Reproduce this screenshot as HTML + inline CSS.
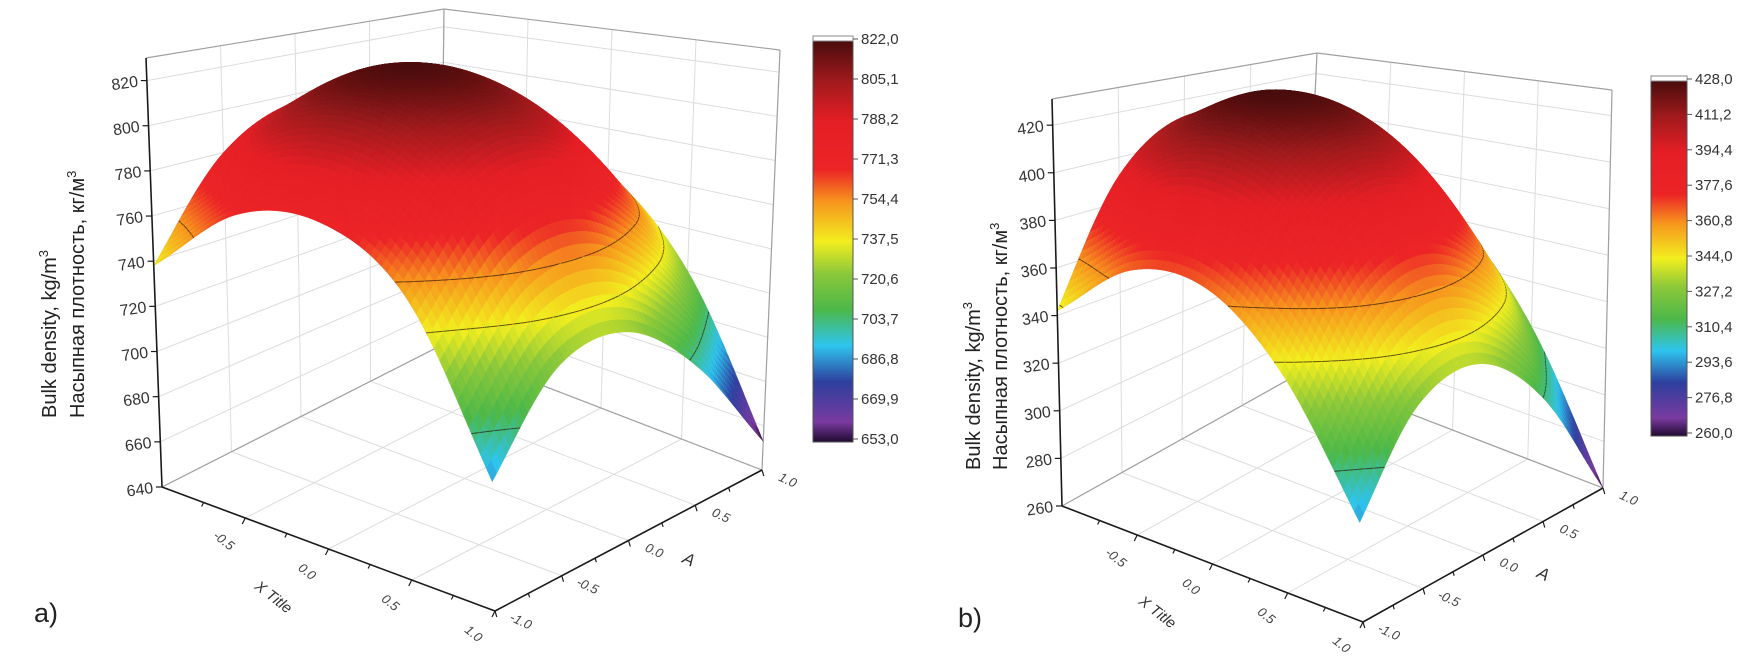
<!DOCTYPE html>
<html><head><meta charset="utf-8">
<style>
html,body{margin:0;padding:0;background:#fff;}
svg{display:block;font-family:"Liberation Sans",sans-serif;}
</style></head>
<body>
<svg id="fig" width="1754" height="659" viewBox="0 0 1754 659" xmlns="http://www.w3.org/2000/svg">
<rect x="0" y="0" width="1754" height="659" fill="#fff"/>
<g id="chartA"></g>
<g id="chartB"></g>
<text x="34" y="622" font-size="27" fill="#222">a)</text>
<text x="958" y="627" font-size="27" fill="#222">b)</text>
</svg>
<script>
// ---- data (rows: A = -1..1, cols: X = -1..1) ----
const gridTicks = [-1, -0.5, 0, 0.5, 1];
const zA = [
  [738, 768, 772, 750, 688],
  [780, 807, 808, 784, 722],
  [796, 820, 817, 790, 725],
  [787, 808, 800, 766, 699],
  [751, 769, 758, 720, 653]
];
const zB = [
  [342, 366, 366, 341, 295],
  [392, 412, 408, 380, 328],
  [412, 428, 421, 389, 334],
  [403, 416, 405, 369, 310],
  [365, 374, 359, 320, 260]
];
const zTicksA = [640, 660, 680, 700, 720, 740, 760, 780, 800, 820];
const zTicksB = [260, 280, 300, 320, 340, 360, 380, 400, 420];
const cbLabelsA = ["822,0","805,1","788,2","771,3","754,4","737,5","720,6","703,7","686,8","669,9","653,0"];
const cbLabelsB = ["428,0","411,2","394,4","377,6","360,8","344,0","327,2","310,4","293,6","276,8","260,0"];
const contourA = [754.4, 737.5, 703.7];
const contourB = [360.8, 344.0, 310.4];
const xTickLabels = ["-0.5", "0.0", "0.5", "1.0"];
const aTickLabels = ["-1.0", "-0.5", "0.0", "0.5", "1.0"];

const NS = "http://www.w3.org/2000/svg";
function mk(tag, attrs, parent) {
  const e = document.createElementNS(NS, tag);
  for (const k in attrs) e.setAttribute(k, attrs[k]);
  if (parent) parent.appendChild(e);
  return e;
}
const stops = [
  [0, [32,10,48]], [0.05, [122,58,160]], [0.15, [45,63,158]], [0.24, [46,196,238]],
  [0.33, [76,184,72]], [0.42, [140,200,58]], [0.5, [242,238,30]], [0.6, [247,148,29]],
  [0.68, [236,36,38]], [0.8, [228,30,37]], [0.9, [160,26,28]], [1, [74,12,12]]
];
function cmap(t) {
  t = Math.max(0, Math.min(1, t));
  for (let i = 1; i < stops.length; i++) {
    if (t <= stops[i][0]) {
      const a = stops[i-1], b = stops[i];
      const f = (t - a[0]) / (b[0] - a[0]);
      const c = a[1].map((v, j) => Math.round(v + (b[1][j] - v) * f));
      return "rgb(" + c.join(",") + ")";
    }
  }
  return "rgb(74,12,12)";
}
function bil(P, u, v) {
  return [
    (1-u)*(1-v)*P.L[0] + u*(1-v)*P.F[0] + u*v*P.R[0] + (1-u)*v*P.B[0],
    (1-u)*(1-v)*P.L[1] + u*(1-v)*P.F[1] + u*v*P.R[1] + (1-u)*v*P.B[1]
  ];
}
function cr(p0, p1, p2, p3, t) {
  return 0.5 * ((2*p1) + (-p0 + p2)*t + (2*p0 - 5*p1 + 4*p2 - p3)*t*t + (-p0 + 3*p1 - 3*p2 + p3)*t*t*t);
}
function sample(Z, u, v) {
  const n = Z.length - 1;
  const g = (r, c) => {
    if (r < 0) return 2*g(0, c) - g(1, c);
    if (r > n) return 2*g(n, c) - g(n-1, c);
    if (c < 0) return 2*Z[r][0] - Z[r][1];
    if (c > n) return 2*Z[r][n] - Z[r][n-1];
    return Z[r][c];
  };
  let fu = u * n, fv = v * n;
  let ci = Math.min(n - 1, Math.floor(fu)), ri = Math.min(n - 1, Math.floor(fv));
  const tu = fu - ci, tv = fv - ri;
  const rows = [];
  for (let k = -1; k <= 2; k++) {
    rows.push(cr(g(ri+k, ci-1), g(ri+k, ci), g(ri+k, ci+1), g(ri+k, ci+2), tu));
  }
  return cr(rows[0], rows[1], rows[2], rows[3], tv);
}

function drawChart(cfg) {
  const G = document.getElementById(cfg.id);
  const P = (u, v, w) => {
    const f = bil(cfg.floor, u, v), t = bil(cfg.top, u, v);
    return [f[0] + (t[0] - f[0]) * w, f[1] + (t[1] - f[1]) * w];
  };
  const W = z => (z - cfg.zmin) / (cfg.zmax - cfg.zmin);
  const pts = a => a.map(p => p[0].toFixed(1) + "," + p[1].toFixed(1)).join(" ");
  const ln = (p, q, st, sw, name) => {
    const e = mk("line", {x1: p[0], y1: p[1], x2: q[0], y2: q[1], stroke: st, "stroke-width": sw}, G);
    
    
    return e;
  };
  const grid = "#dcdcdc";
  for (const t of gridTicks) {
    const s = (t + 1) / 2;
    ln(P(s, 0, 0), P(s, 1, 0), grid, 1, "floor-grid-x");
    ln(P(0, s, 0), P(1, s, 0), grid, 1, "floor-grid-a");
  }
  for (const zt of cfg.zTicks) {
    const w = W(zt);
    ln(P(0, 0, w), P(0, 1, w), grid, 1, "left-wall-grid");
    ln(P(0, 1, w), P(1, 1, w), grid, 1, "back-wall-grid");
  }
  for (const t of gridTicks) {
    const s = (t + 1) / 2;
    ln(P(0, s, 0), P(0, s, 1), grid, 1, "left-wall-vgrid");
    ln(P(s, 1, 0), P(s, 1, 1), grid, 1, "back-wall-vgrid");
  }
  const edge = "#a0a0a0";
  ln(P(0, 1, 0), P(0, 1, 1), edge, 1.2, "back-corner-edge");
  ln(P(1, 1, 0), P(1, 1, 1), edge, 1.2, "right-edge");
  ln(P(0, 0, 1), P(0, 1, 1), edge, 1.2, "top-left-edge");
  ln(P(0, 1, 1), P(1, 1, 1), edge, 1.2, "top-right-edge");
  ln(P(0, 1, 0), P(1, 1, 0), edge, 1.2, "floor-back-edge");
  ln(P(0, 0, 0), P(0, 1, 0), edge, 1.2, "floor-left-edge");

  const N = 60;
  const val = [];
  for (let i = 0; i <= N; i++) { val.push([]); for (let j = 0; j <= N; j++) val[i].push(sample(cfg.Z, j / N, i / N)); }
  const quads = [];
  for (let i = 0; i < N; i++) for (let j = 0; j < N; j++) {
    const u = (j + 0.5) / N, v = (i + 0.5) / N;
    quads.push({i, j, d: (1 - u) + v});
  }
  quads.sort((a, b) => b.d - a.d);
  const surf = mk("g", {}, G);
  
  
  for (const q of quads) {
    const {i, j} = q;
    const c = [[i, j], [i, j+1], [i+1, j+1], [i+1, j]];
    const p = c.map(([r, cc]) => P(cc / N, r / N, W(val[r][cc])));
    const zav = (val[i][j] + val[i][j+1] + val[i+1][j] + val[i+1][j+1]) / 4;
    const col = cmap((zav - cfg.cmin) / (cfg.cmax - cfg.cmin));
    const poly = mk("polygon", {points: pts(p), fill: col, stroke: col, "stroke-width": 0.45, "stroke-linejoin": "round"}, surf);
    
    
    for (const lv of cfg.levels) {
      const cross = [];
      for (let k = 0; k < 4; k++) {
        const a = c[k], b = c[(k + 1) % 4];
        const za = val[a[0]][a[1]], zb = val[b[0]][b[1]];
        if ((za - lv) * (zb - lv) < 0) {
          const f = (lv - za) / (zb - za);
          const r = a[0] + (b[0] - a[0]) * f, cc = a[1] + (b[1] - a[1]) * f;
          cross.push(P(cc / N, r / N, W(lv)));
        }
      }
      if (cross.length >= 2) {
        const seg = mk("line", {x1: cross[0][0], y1: cross[0][1], x2: cross[1][0], y2: cross[1][1], stroke: "rgba(40,20,10,0.7)", "stroke-width": 1}, surf);
        
        
      }
    }
  }

  const ax = "#1a1a1a";
  ln(P(0, 0, 0), P(0, 0, 1), ax, 1.6, "z-axis");
  ln(P(0, 0, 0), P(1, 0, 0), ax, 1.6, "x-axis");
  ln(P(1, 0, 0), P(1, 1, 0), ax, 1.6, "a-axis");
  cfg.zTicks.forEach((zt, k) => {
    const p = P(0, 0, W(zt));
    ln([p[0] - 6, p[1]], p, ax, 1.2, "z-tick");
    const t = mk("text", {x: p[0] - 9, y: p[1] + 6, "font-size": 16, fill: "#333", "text-anchor": "end", transform: "rotate(-8 " + (p[0] - 9) + " " + p[1] + ")"}, G);
    t.textContent = zt;
    
    
  });
  for (let k = 1; k <= 8; k++) {
    const s = k / 8, p = P(s, 0, 0), len = (k % 2 === 0) ? 6 : 4;
    ln(p, [p[0] - len * 0.5, p[1] + len], ax, 1.2, "x-tick");
  }
  xTickLabels.forEach((lab, k) => {
    const p = P((k + 1) / 4, 0, 0);
    const x = p[0] - 24, y = p[1] + 26;
    const t = mk("text", {x, y, "font-size": 13, "font-style": "italic", fill: "#444", "text-anchor": "middle", transform: "rotate(38 " + x + " " + y + ")"}, G);
    t.textContent = lab;
    
    
  });
  {
    const p = P(0.5, 0, 0), x = p[0] - 58, y = p[1] + 52;
    const t = mk("text", {x, y, "font-size": 15, "font-style": "italic", fill: "#333", "text-anchor": "middle", transform: "rotate(38 " + x + " " + y + ")"}, G);
    t.textContent = "X Title";
    
    
  }
  for (let k = 0; k <= 8; k++) {
    const p = P(1, k / 8, 0), len = (k % 2 === 0) ? 6 : 4;
    ln(p, [p[0] + len * 0.3, p[1] + len], ax, 1.2, "a-tick");
  }
  aTickLabels.forEach((lab, k) => {
    const p = P(1, k / 4, 0);
    const x = p[0] + 24, y = p[1] + 14;
    const t = mk("text", {x, y, "font-size": 13, "font-style": "italic", fill: "#444", "text-anchor": "middle", transform: "rotate(25 " + x + " " + y + ")"}, G);
    t.textContent = lab;
    
    
  });
  {
    const p = P(1, 0.5, 0), x = p[0] + 58, y = p[1] + 24;
    const t = mk("text", {x, y, "font-size": 17, "font-style": "italic", fill: "#333", "text-anchor": "middle", transform: "rotate(25 " + x + " " + y + ")"}, G);
    t.textContent = "A";
    
    
  }
  const yt = (bx, txt, name) => {
    const t = mk("text", {x: bx, y: cfg.titleBottom, "font-size": 20, fill: "#222", transform: "rotate(-90 " + bx + " " + cfg.titleBottom + ")"}, G);
    t.appendChild(document.createTextNode(txt));
    const sp = mk("tspan", {dy: -8, "font-size": 13}, t);
    sp.textContent = "3";
    
    
  };
  yt(cfg.titleX1, "Bulk density, kg/m", "y-axis-title-en");
  yt(cfg.titleX2, "Насыпная плотность, кг/м", "y-axis-title-ru");

  const cb = cfg.cb;
  const defs = mk("defs", {}, G);
  const grad = mk("linearGradient", {id: cfg.id + "grad", x1: 0, y1: 1, x2: 0, y2: 0}, defs);
  stops.forEach(s => mk("stop", {offset: s[0], "stop-color": cmap(s[0])}, grad));
  const bar = mk("rect", {x: cb.x, y: cb.y + 5, width: cb.w, height: cb.h - 5, fill: "url(#" + cfg.id + "grad)", stroke: "#555", "stroke-width": 1}, G);
  
  
  const cap = mk("rect", {x: cb.x, y: cb.y, width: cb.w, height: 5, fill: "#fff", stroke: "#888", "stroke-width": 1}, G);
  
  
  cfg.cbLabels.forEach((lab, k) => {
    const y = cb.y + 3 + (cb.h - 6) * k / (cfg.cbLabels.length - 1);
    ln([cb.x + cb.w, y], [cb.x + cb.w + 5, y], "#555", 1, "colorbar-tick");
    const t = mk("text", {x: cb.x + cb.w + 8, y: y + 5, "font-size": 15, fill: "#333"}, G);
    t.textContent = lab;
    
    
  });
}

drawChart({
  id: "chartA", Z: zA, zmin: 640, zmax: 830, cmin: 653, cmax: 822,
  floor: {L: [162, 487], F: [495, 611], R: [762, 470], B: [440, 346]},
  top: {L: [146, 58], F: [484, 99], R: [780, 50], B: [444, 9]},
  zTicks: zTicksA, levels: contourA, cbLabels: cbLabelsA,
  cb: {x: 813, y: 36, w: 40, h: 406},
  titleX1: 56, titleX2: 84, titleBottom: 418
});
drawChart({
  id: "chartB", Z: zB, zmin: 260, zmax: 431, cmin: 260, cmax: 428,
  floor: {L: [1062, 506], F: [1363, 622], R: [1603, 488], B: [1302, 372]},
  top: {L: [1052, 99], F: [1347, 136], R: [1612, 90], B: [1317, 53]},
  zTicks: zTicksB, levels: contourB, cbLabels: cbLabelsB,
  cb: {x: 1651, y: 76, w: 36, h: 360},
  titleX1: 980, titleX2: 1007, titleBottom: 470
});
</script>
</body></html>
